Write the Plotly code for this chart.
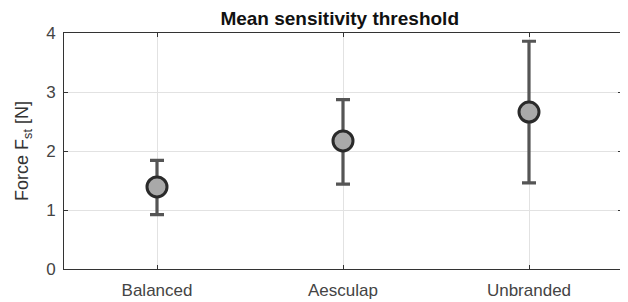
import plotly.graph_objects as go

categories = ["Balanced", "Aesculap", "Unbranded"]
means = [1.39, 2.17, 2.66]
upper = [1.84, 2.87, 3.86]
lower = [0.92, 1.44, 1.46]
yticks = [0, 1, 2, 3, 4]

err_plus = [u - m for u, m in zip(upper, means)]
err_minus = [m - l for m, l in zip(means, lower)]
xpos = [1, 2, 3]

fig = go.Figure()
fig.add_trace(go.Scatter(
    x=xpos, y=means, mode="markers",
    marker=dict(size=20, color="#a9a9a9", line=dict(color="#2a2a2a", width=3)),
    error_y=dict(type="data", symmetric=False, array=err_plus, arrayminus=err_minus,
                 color="#555555", thickness=3.2, width=7),
    showlegend=False,
))

fig.update_layout(
    width=620, height=294,
    margin=dict(l=56, r=6, t=25, b=33),
    paper_bgcolor="white", plot_bgcolor="white",
    font=dict(family="Liberation Sans, Arial, sans-serif", size=17, color="#444444"),
    title=dict(text="<b>Mean sensitivity threshold</b>", x=0.535, xanchor="center",
               y=0.966, yanchor="middle", font=dict(size=19, color="#111111")),
    xaxis=dict(range=[0.5, 3.5], tickvals=xpos, ticktext=categories,
               showgrid=True, gridcolor="#e2e2e2", gridwidth=1,
               showline=True, linecolor="#333333", linewidth=1, mirror="ticks",
               ticks="inside", ticklen=4, tickcolor="#333333", zeroline=False,
               ticklabelstandoff=6, automargin=False),
    yaxis=dict(range=[0, 4], tickvals=yticks,
               showgrid=True, gridcolor="#e2e2e2", gridwidth=1,
               showline=True, linecolor="#333333", linewidth=1, mirror="ticks",
               ticks="inside", ticklen=4, tickcolor="#333333", zeroline=False,
               ticklabelstandoff=4, automargin=False,
               title=dict(text="Force F<sub>st</sub> [N]", standoff=12,
                          font=dict(size=18, color="#333333"))),
)

fig.write_html("out.html")
